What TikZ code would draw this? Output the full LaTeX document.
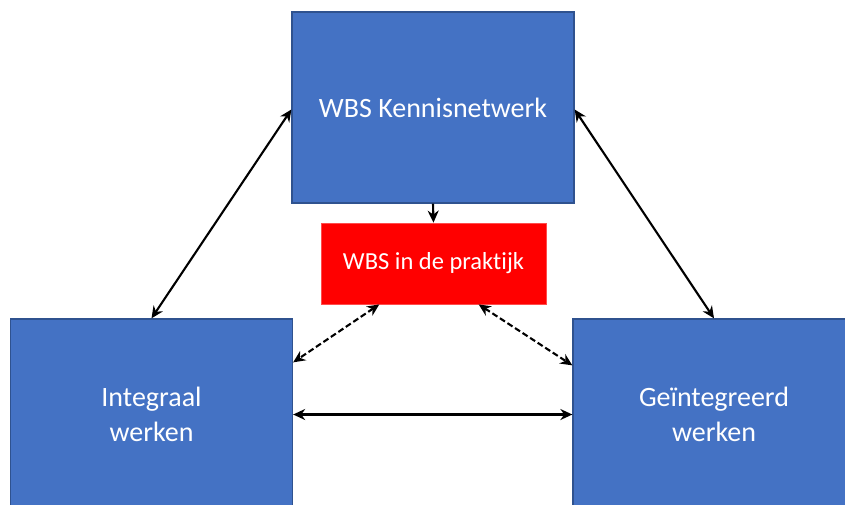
\documentclass[tikz,border=0pt]{standalone}
\usepackage{fontspec}
\setmainfont{Carlito}[Ligatures=NoCommon]
\usetikzlibrary{arrows.meta,calc}
\definecolor{boxblue}{HTML}{4472C4}
\definecolor{boxedge}{HTML}{2F528F}
\tikzset{
  bluebox/.style={draw=boxedge, line width=1.3pt, fill=boxblue, text=white, minimum width=282pt, minimum height=191pt, inner sep=0pt, align=center, font=\fontsize{28}{35}\selectfont},
  redbox/.style={draw=red!70!white, line width=0.8pt, fill=red, text=white, minimum width=225pt, minimum height=81pt, inner sep=0pt, font=\fontsize{24.5}{29}\selectfont},
  link/.style={line width=2.1pt, {Stealth[length=12pt,width=11pt]}-{Stealth[length=12pt,width=11pt]}},
  dlink/.style={link, dash pattern=on 6pt off 3pt},
  onelink/.style={line width=2.1pt, -{Stealth[length=12pt,width=11pt]}}
}
\begin{document}
\begin{tikzpicture}[x=1pt,y=-1pt]
\useasboundingbox (0,0) rectangle (845,504);
\clip (0,0) rectangle (845,504);
\node[bluebox] (top) at (433,107.5) {WBS Kennisnetwerk};
\node[redbox] (red) at (433.5,263.5) {WBS in de praktijk};
\node[bluebox] (left) at (151.5,414.5) {Integraal\\werken};
\node[bluebox] (right) at (714,414.5) {Geïntegreerd\\werken};
\draw[link] ($(top.west)+(0,2)$) -- (left.north);
\draw[link] ($(top.east)+(0,2)$) -- (right.north);
\draw[onelink] (top.south) -- (red.north);
\draw[dlink] ($(red.south west)!0.26!(red.south east)$) -- ($(left.north east)+(0,44)$);
\draw[dlink] ($(red.south west)!0.70!(red.south east)$) -- ($(right.north west)+(0,47)$);
\draw[link] (left.east) -- (right.west);
\end{tikzpicture}
\end{document}
